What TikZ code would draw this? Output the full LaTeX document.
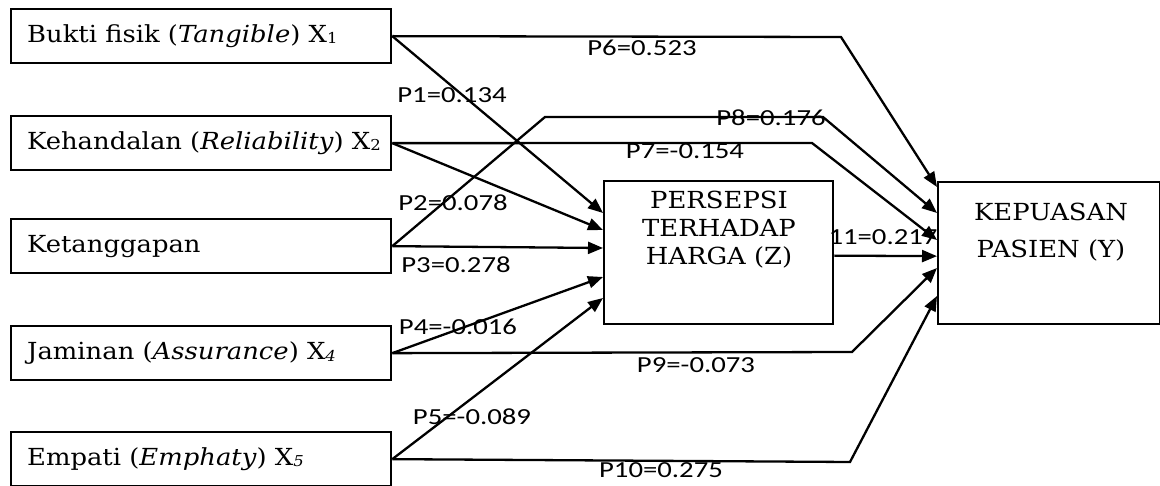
\documentclass[tikz,border=0pt]{standalone}
\usepackage{fontspec}
\setmainfont{DejaVu Serif}[FakeStretch=1.1]
\newfontfamily\lab{Carlito}[FakeStretch=1.25]
\usetikzlibrary{arrows.meta}
\newcommand{\sbx}[1]{\raisebox{-1.5pt}{\fontsize{15}{15}\selectfont #1}}
\newcommand{\ltxt}[1]{\makebox[356pt][l]{#1}}
\begin{document}
\begin{tikzpicture}[x=1pt,y=-1pt,
  box/.style={draw, line width=2.3pt, minimum height=54pt, inner xsep=12pt, anchor=north west, font=\fontsize{23.5}{26}\selectfont},
  bigbox/.style={draw, line width=2.3pt, anchor=north west, inner sep=0pt},
  btext/.style={align=center, font=\fontsize{23.5}{28}\selectfont},
  arr/.style={line width=2.3pt, -{Triangle[length=15pt,width=12pt]}},
  lbl/.style={font=\lab\fontsize{23}{23}\selectfont, inner sep=0pt}]
\useasboundingbox[fill=white] (0,0) rectangle (1160,486);

% left boxes
\node[box] (b1) at (10,8) {\ltxt{\hspace{4pt}Bukti fisik (\textit{Tangible}) X\sbx{1}}};
\node[box] (b2) at (10,115) {\ltxt{\hspace{4pt}Kehandalan (\textit{Reliability}) X\sbx{2}}};
\node[box] (b3) at (10,218) {\ltxt{\hspace{4pt}Ketanggapan}};
\node[box] (b4) at (10,325) {\ltxt{\hspace{4pt}Jaminan (\textit{Assurance}) X\sbx{\textit{4}}}};
\node[box] (b5) at (10,431) {\ltxt{\hspace{4pt}Empati (\textit{Emphaty}) X\sbx{\textit{5}}}};

% Z box
\node[bigbox, minimum width=229pt, minimum height=143pt] (Z) at (603,180) {};
\node[btext] (zt) at (719,230) {PERSEPSI\\TERHADAP\\HARGA (Z)};

% Y box
\node[bigbox, minimum width=222pt, minimum height=142pt] (Y) at (937,181) {};
\node[btext, font=\fontsize{23.5}{37}\selectfont] (yt) at (1051,232) {KEPUASAN\\PASIEN (Y)};

% bend points
\coordinate (k6) at (841,37);
\coordinate (k8a) at (545,117);
\coordinate (k8b) at (823,117);
\coordinate (k7) at (812,143);
\coordinate (k9) at (852,352);
\coordinate (k10) at (850,462);

% to Z
\draw[arr] (b1.east) -- ([yshift=-33pt]Z.north west);
\draw[arr] (b2.east) -- ([yshift=-50pt]Z.north west);
\draw[arr] (b3.east) -- ([yshift=-68pt]Z.north west);
\draw[arr] (b4.east) -- ([yshift=-97pt]Z.north west);
\draw[arr] (b5.east) -- ([yshift=-118pt]Z.north west);

% to Y
\draw[arr] (b1.east) -- (k6) -- ([yshift=-6pt]Y.north west);
\draw[arr] (b3.east) -- (k8a) -- (k8b) -- ([yshift=-32pt]Y.north west);
\draw[arr] (b2.east) -- (k7) -- ([yshift=-59pt]Y.north west);
\draw[arr] ([yshift=-3pt]Z.east) -- ([yshift=-3pt]Y.west);
\draw[arr] (b4.east) -- (k9) -- ([yshift=-87pt]Y.north west);
\draw[arr] (b5.east) -- (k10) -- ([yshift=-115pt]Y.north west);

% labels
\node[lbl] (l6) at (642,48) {P6=0.523};
\node[lbl] (l1) at (452,95) {P1=0.134};
\node[lbl] (l8) at (771,118) {P8=0.176};
\node[lbl] (l7) at (685,151) {P7=-0.154};
\node[lbl] (l2) at (453,203) {P2=0.078};
\node[lbl] (l3) at (456,265) {P3=0.278};
\node[lbl] (l4) at (458,327) {P4=-0.016};
\node[lbl] (l9) at (696,365) {P9=-0.073};
\node[lbl] (l5) at (472,417) {P5=-0.089};
\node[lbl] (l10) at (661,470) {P10=0.275};
\node[lbl] (l11) at (883,237) {11=0.217};
\end{tikzpicture}
\end{document}
